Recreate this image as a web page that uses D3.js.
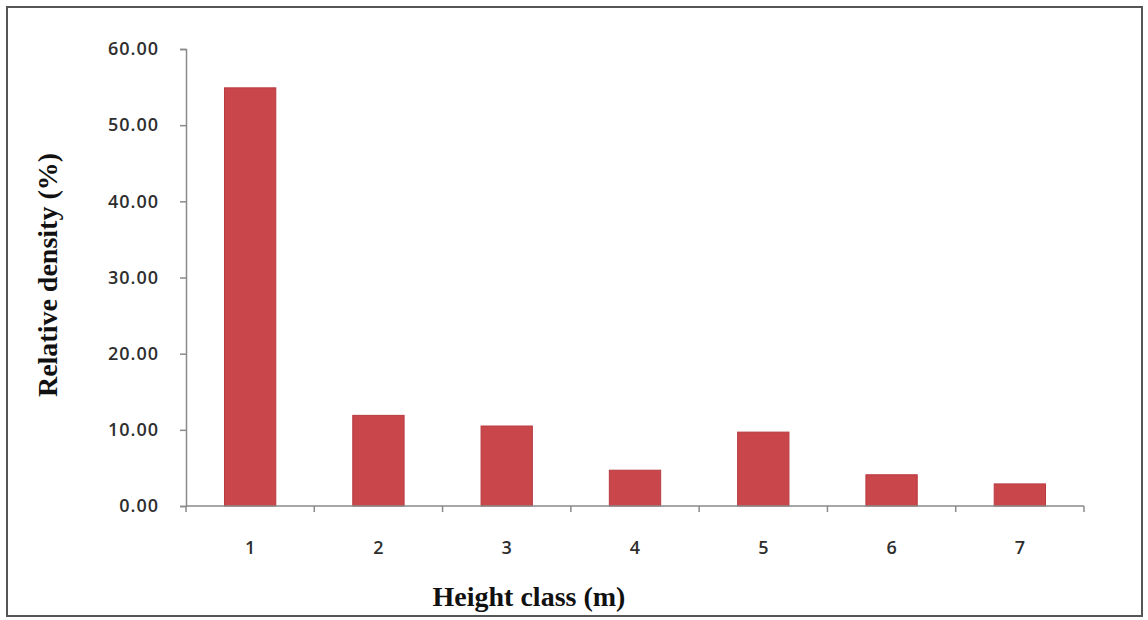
<!DOCTYPE html>
<html>
<head>
<meta charset="utf-8">
<script src="https://cdn.jsdelivr.net/npm/d3@7"></script>
<style>
  html, body { margin: 0; padding: 0; background: #fff; }
  svg { display: block; }
</style>
</head>
<body>
<svg id="chart" width="1148" height="620"></svg>
<script>
// Height classes and their relative density (%)
const heightClasses = ["1", "2", "3", "4", "5", "6", "7"];
const relativeDensity = [54.9, 11.9, 10.5, 4.7, 9.7, 4.1, 2.9];
const yTickValues = [0, 10, 20, 30, 40, 50, 60];

const svg = d3.select("#chart");
const W = 1148, H = 620;

// outer frame
svg.append("rect")
  .attr("x", 7).attr("y", 7)
  .attr("width", W - 13).attr("height", H - 11)
  .attr("fill", "#fff")
  .attr("stroke", "#555").attr("stroke-width", 2);

const plot = { left: 186, right: 1084, top: 49, bottom: 506 };

const x = d3.scaleBand()
  .domain(heightClasses)
  .range([plot.left, plot.right])
  .paddingInner(0.6)
  .paddingOuter(0.3);

const y = d3.scaleLinear()
  .domain([0, 60])
  .range([plot.bottom, plot.top]);

const axisColor = "#8a8a8a";
const labelColor = "#2e2e2e";
const tickFont = "'Open Sans', 'DejaVu Sans', sans-serif";

// bars
svg.append("g")
  .selectAll("rect")
  .data(relativeDensity)
  .join("rect")
  .attr("x", (d, i) => x(heightClasses[i]))
  .attr("y", d => y(d))
  .attr("width", x.bandwidth())
  .attr("height", d => y(0) - y(d))
  .attr("fill", "#c9474b")
  .attr("stroke", "#b83a40")
  .attr("stroke-width", 1);

// y axis
const yAxis = svg.append("g")
  .attr("transform", `translate(${plot.left},0)`)
  .call(d3.axisLeft(y).tickValues(yTickValues).tickFormat(d3.format(".2f")).tickSize(6).tickPadding(21));
yAxis.select(".domain").attr("stroke", axisColor).attr("stroke-width", 1.5);
yAxis.selectAll(".tick line").attr("stroke", axisColor).attr("stroke-width", 1.5);
yAxis.selectAll(".tick text")
  .attr("fill", labelColor)
  .style("font-family", tickFont)
  .style("font-size", "18px")
  .style("font-weight", "600")
  .style("letter-spacing", "1px");

// x axis: ticks sit on the category boundaries
const boundaries = heightClasses.map((c, i) => plot.left + i * x.step());
boundaries.push(plot.right);

const xAxisG = svg.append("g").attr("transform", `translate(0,${plot.bottom})`);
xAxisG.append("line")
  .attr("x1", plot.left).attr("x2", plot.right)
  .attr("stroke", axisColor).attr("stroke-width", 1.5);
xAxisG.selectAll("line.tick")
  .data(boundaries)
  .join("line")
  .attr("class", "tick")
  .attr("x1", d => d).attr("x2", d => d)
  .attr("y1", 0).attr("y2", 6)
  .attr("stroke", axisColor).attr("stroke-width", 1.5);
xAxisG.selectAll("text")
  .data(heightClasses)
  .join("text")
  .attr("x", d => x(d) + x.bandwidth() / 2)
  .attr("y", 48)
  .attr("text-anchor", "middle")
  .attr("fill", labelColor)
  .style("font-family", tickFont)
  .style("font-size", "18px")
  .style("font-weight", "600")
  .text(d => d);

// axis titles
svg.append("text")
  .attr("x", 529).attr("y", 606)
  .attr("text-anchor", "middle")
  .attr("fill", "#111")
  .style("font-family", "'Liberation Serif', 'Times New Roman', serif")
  .style("font-weight", "bold")
  .style("font-size", "28px")
  .text("Height class (m)");

svg.append("text")
  .attr("transform", "translate(57,275) rotate(-90)")
  .attr("text-anchor", "middle")
  .attr("fill", "#111")
  .style("font-family", "'Liberation Serif', 'Times New Roman', serif")
  .style("font-weight", "bold")
  .style("font-size", "28px")
  .text("Relative density (%)");
</script>
</body>
</html>
